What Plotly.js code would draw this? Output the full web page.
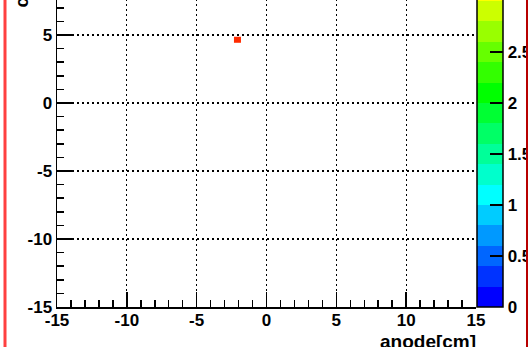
<!DOCTYPE html>
<html><head><meta charset="utf-8">
<script src="https://cdn.plot.ly/plotly-3.0.1.min.js"></script>
<style>
html,body{margin:0;padding:0;overflow:hidden;background:#fff;width:529px;height:347px;}
#wrap{position:absolute;left:0;top:-110px;width:526px;height:457px;overflow:hidden;border-right:2px solid #b80000;}
#plot{width:526px;height:457px;}
</style></head><body>
<div id="wrap"><div id="plot"></div></div>
<script>
// ---- data ----
const binXEdges = [-2.33, -1.83];
const binYEdges = [4.43, 4.87];
const binCounts = [[4]];
const axisTicks = [-15, -10, -5, 0, 5, 10, 15];
const axisTickLabels = ['-15', '-10', '-5', '0', '5', '10', '15'];
const zTicks = [0, 0.5, 1, 1.5, 2, 2.5];
const zTickLabels = ['0', '0.5', '1', '1.5', '2', '2.5'];
const xTitle = 'anode[cm]';
const yTitle = 'cathode[cm]';
// palette bands (20 contour levels)
const paletteColors = [
  'hsl(240,100%,50%)','hsl(228,100%,50%)','hsl(216,100%,50%)','hsl(204,100%,50%)',
  'hsl(192,100%,50%)','hsl(180,100%,50%)','hsl(168,100%,50%)','hsl(156,100%,50%)',
  'hsl(144,100%,50%)','hsl(132,100%,50%)','hsl(120,100%,50%)','hsl(108,100%,50%)',
  'hsl(96,100%,50%)','hsl(84,100%,50%)','hsl(72,100%,50%)','hsl(60,100%,50%)',
  'hsl(48,100%,50%)','hsl(36,100%,50%)','hsl(24,100%,50%)','hsl(10,100%,50%)'
];
const colorscale = [];
paletteColors.forEach((c, k) => {
  colorscale.push([k / paletteColors.length, c]);
  colorscale.push([(k + 1) / paletteColors.length, c]);
});

const F = {family: 'Liberation Sans, Arial, sans-serif', size: 17, color: '#000', weight: 'bold'};

const axisCommon = {
  range: [-15, 15],
  tickmode: 'array', tickvals: axisTicks, ticktext: axisTickLabels,
  ticks: 'inside', ticklen: 15, tickwidth: 1.5, tickcolor: '#000',
  showline: true, linecolor: '#000', linewidth: 1.5,
  showgrid: true, gridcolor: '#000', gridwidth: 1.3, griddash: '2px,3px',
  zeroline: false, tickfont: F, fixedrange: true,
  minor: {tickmode: 'linear', tick0: 0, dtick: 1, ticks: 'inside', ticklen: 7,
          tickwidth: 1.5, tickcolor: '#000', showgrid: false}
};

const trace = {
  type: 'heatmap',
  x: binXEdges, y: binYEdges, z: binCounts,
  zmin: 0, zmax: 4, colorscale: colorscale, hoverinfo: 'none',
  colorbar: {
    x: 1 + 1 / 419, xanchor: 'left', xpad: 0, ypad: 0,
    y: 0.5, yanchor: 'middle', len: 1, lenmode: 'fraction',
    thickness: 26, outlinewidth: 1.5, outlinecolor: '#000',
    tickmode: 'array', tickvals: zTicks, ticktext: zTickLabels,
    ticks: 'inside', ticklen: 13, tickwidth: 1.5, tickcolor: '#000',
    tickfont: F
  }
};

const xAx = Object.assign({}, axisCommon, {ticklabelstandoff: -3});
const yAx = Object.assign({}, axisCommon);

const layout = {
  width: 526, height: 457,
  margin: {l: 57, r: 50, t: 9, b: 40, autoexpand: false},
  paper_bgcolor: '#fff', plot_bgcolor: '#fff',
  showlegend: false,
  xaxis: xAx,
  yaxis: yAx,
  annotations: [
    {text: xTitle, xref: 'paper', yref: 'paper', x: 1, y: 0, xanchor: 'right', yanchor: 'top',
     yshift: -22, xshift: 2, showarrow: false, font: Object.assign({}, F, {size: 19})},
    {text: yTitle, xref: 'paper', yref: 'paper', x: 0, y: 1, xanchor: 'center', yanchor: 'top',
     xshift: -36, textangle: -90, showarrow: false, font: Object.assign({}, F, {size: 18})}
  ],
  shapes: [
    {type: 'line', xref: 'paper', yref: 'paper', x0: -52 / 419, x1: -52 / 419, y0: -1, y1: 2,
     line: {color: '#ff4040', width: 3}}
  ]
};

Plotly.newPlot('plot', [trace], layout, {displayModeBar: false, staticPlot: true});
</script>
</body></html>
